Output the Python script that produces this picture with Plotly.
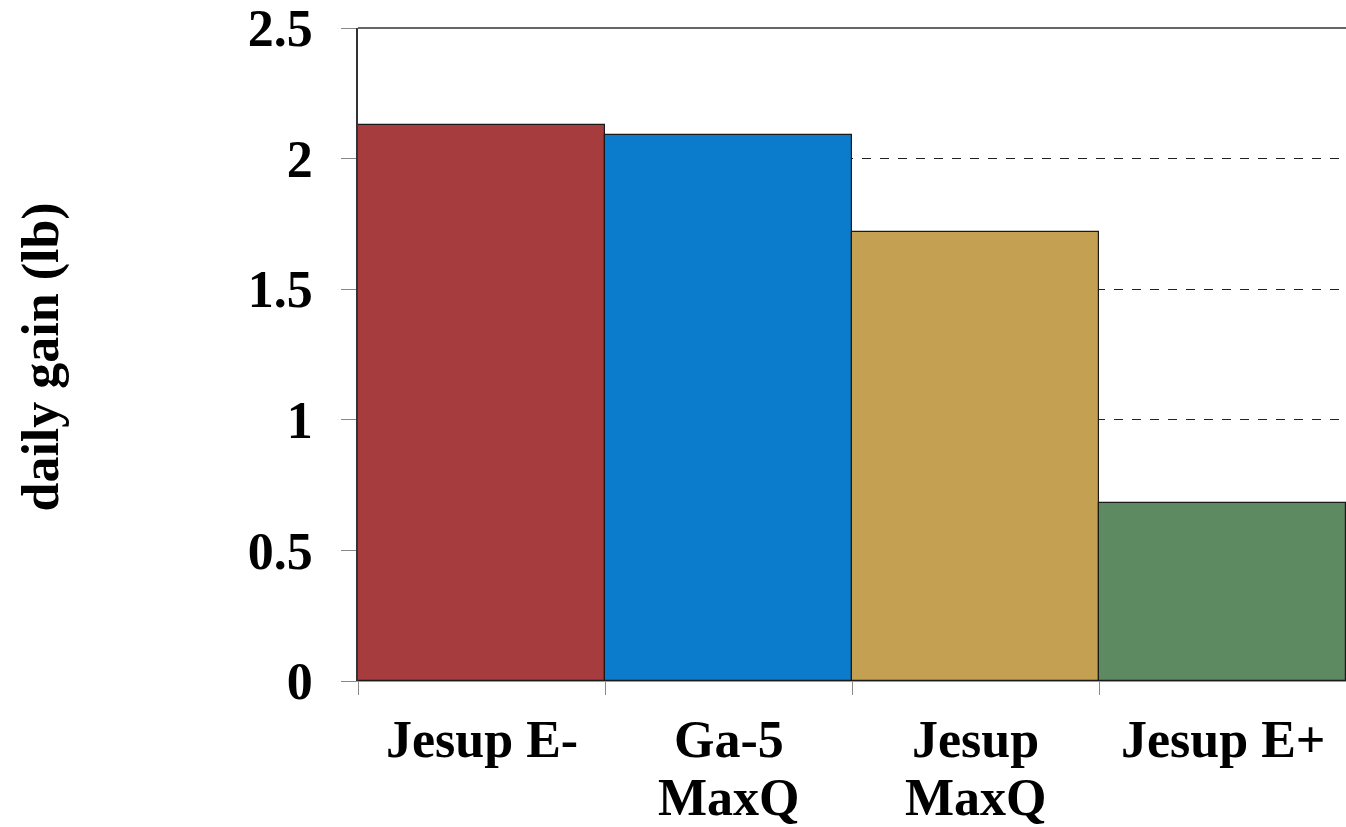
import plotly.graph_objects as go

categories = ["Jesup E-", "Ga-5<br>MaxQ", "Jesup<br>MaxQ", "Jesup E+"]
values = [2.13, 2.09, 1.72, 0.68]
colors = ["#A63C3D", "#0B7BCB", "#C4A152", "#5E8A62"]
y_ticks = [0, 0.5, 1, 1.5, 2, 2.5]
y_tick_labels = ["0", "0.5", "1", "1.5", "2", "2.5"]

W, H = 1346, 827
L, R, T, B = 358, 0, 28, 146
PH = H - T - B

fig = go.Figure(go.Bar(
    x=categories, y=values,
    marker=dict(color=colors, line=dict(color="#1a1a1a", width=1.2)),
    width=1.0,
))

FAM = "Liberation Serif, Times New Roman, serif"
font = dict(family=FAM, size=52, color="black", weight="bold")

fig.update_layout(
    width=W, height=H,
    margin=dict(l=L, r=R, t=T, b=B, autoexpand=False),
    plot_bgcolor="white", paper_bgcolor="white",
    bargap=0, showlegend=False,
    font=font,
)
fig.update_yaxes(
    range=[0, 2.5], tickvals=y_ticks, ticktext=y_tick_labels,
    showgrid=True, gridcolor="#222222", griddash="dash", gridwidth=1,
    showline=True, linecolor="#333333", linewidth=1.5,
    ticks="outside", ticklen=15, tickcolor="#888888", tickwidth=1,
    ticklabelstandoff=18, tickfont=font, zeroline=False,
    automargin=False,
)
fig.update_xaxes(
    range=[-0.5, 3.5], tickson="boundaries",
    showline=True, linecolor="#999999", linewidth=1,
    ticks="outside", ticklen=13, tickcolor="#888888", tickwidth=1,
    showticklabels=False, automargin=False,
)
fig.add_shape(type="line", xref="paper", yref="paper", x0=0, x1=1, y0=1, y1=1,
              line=dict(color="#333333", width=1.5))

# category labels, one annotation per line for tighter line spacing
line_baselines = [757, 816]
for cat in categories:
    for i, part in enumerate(cat.split("<br>")):
        py = line_baselines[i] - 18
        fig.add_annotation(
            text=part, x=cat, xref="x", yref="paper",
            y=1 - (py - T) / PH, xanchor="center", yanchor="middle",
            showarrow=False, font=font,
        )

fig.add_annotation(
    text="daily gain (lb)", xref="paper", yref="paper",
    x=(40 - L) / (W - L - R), y=1 - (357.5 - T) / PH,
    xanchor="center", yanchor="middle", textangle=-90, showarrow=False,
    font=font,
)

fig.write_html("out.html")
